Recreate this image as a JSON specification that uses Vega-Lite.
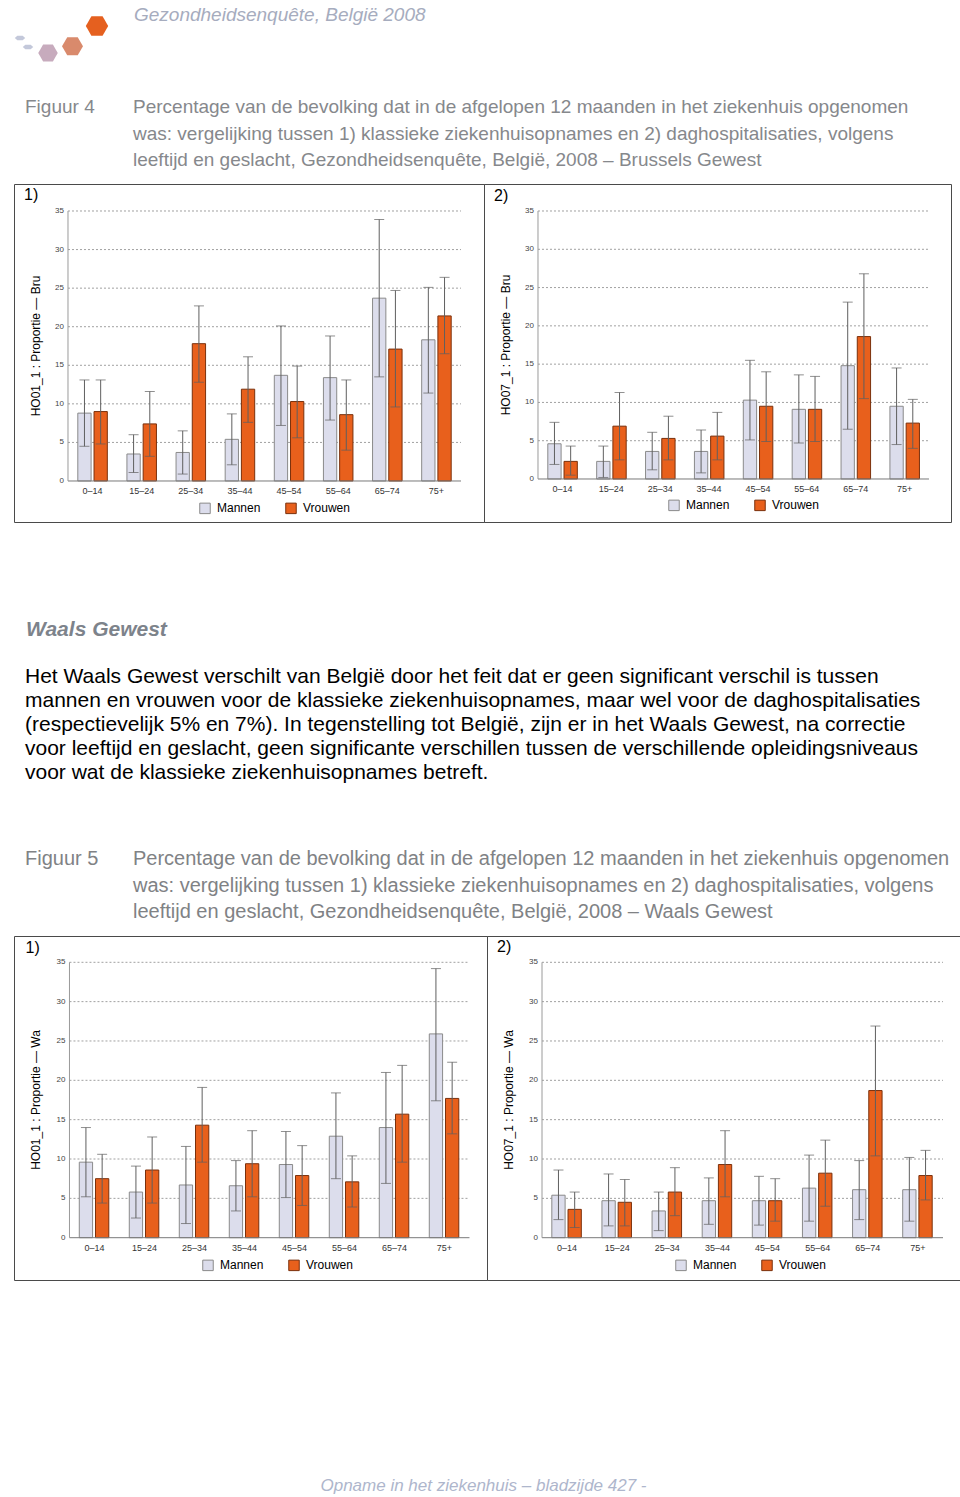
{
  "$schema": "https://vega.github.io/schema/vega-lite/v6.json",
  "background": "white",
  "padding": {"left": 13, "top": 0, "right": 0, "bottom": 0},
  "spacing": 0,
  "resolve": {"scale": {"fill": "independent", "stroke": "independent", "color": "independent", "size": "independent"}},
  "vconcat": [
    {
      "width": 947, "height": 70,
      "layer": [
        {
          "data": {"name": "logo2"},
          "mark": {"type": "point", "filled": true, "opacity": 1, "color": "#C3C8DA", "size": 110, "shape": "M-1,0L-0.5,-0.42L0.5,-0.42L1,0L0.5,0.42L-0.5,0.42Z"},
          "encoding": {
            "x": {"field": "j", "type": "quantitative", "scale": {"domain": [0, 1], "range": [6, 14]}, "axis": null},
            "y": {"field": "j", "type": "quantitative", "scale": {"domain": [0, 1], "range": [38, 47]}, "axis": null}
          }
        },
        {
          "data": {"name": "logo"},
          "mark": {"type": "point", "filled": true, "opacity": 1, "shape": "M-1,0L-0.5,-0.866L0.5,-0.866L1,0L0.5,0.866L-0.5,0.866Z"},
          "encoding": {
            "x": {"field": "i", "type": "quantitative", "scale": {"domain": [0, 2], "range": [34, 83]}, "axis": null},
            "y": {"field": "i", "type": "quantitative", "scale": {"type": "pow", "exponent": 2, "domain": [0, 2], "range": [53, 26]}, "axis": null},
            "size": {"field": "i", "type": "ordinal", "scale": {"range": [380, 500, 780]}, "legend": null},
            "color": {"field": "i", "type": "ordinal", "scale": {"range": ["#C7ABBD", "#D98A6C", "#E5601F"]}, "legend": null}
          }
        },
        {
          "data": {"values": [{"line": 1, "text": "Gezondheidsenquête, België 2008"}]},
          "mark": {"type": "text", "align": "left", "baseline": "middle", "fontStyle": "italic", "fontSize": 19, "color": "#A6ACBE"},
          "encoding": {
            "x": {"value": 120},
            "y": {"field": "line", "type": "ordinal", "axis": null, "scale": {"range": [3, 27]}},
            "text": {"field": "text"}
          }
        }
      ],
      "resolve": {"scale": {"x": "independent", "y": "independent"}}
    },
    {
      "width": 947, "height": 113,
      "layer": [
        {
          "data": {"values": [{"line": 1, "text": "Figuur 4"}]},
          "mark": {"type": "text", "align": "left", "baseline": "middle", "fontSize": 19, "color": "#86888C"},
          "encoding": {
            "x": {"value": 11},
            "y": {"field": "line", "type": "ordinal", "axis": null, "scale": {"domain": [1, 2, 3], "range": [24, 103]}},
            "text": {"field": "text"}
          }
        },
        {
          "data": {"name": "cap4"},
          "mark": {"type": "text", "align": "left", "baseline": "middle", "fontSize": 19, "color": "#86888C"},
          "encoding": {
            "x": {"value": 119},
            "y": {"field": "line", "type": "ordinal", "axis": null},
            "text": {"field": "text"}
          }
        }
      ]
    },
    {
      "hconcat": [
        {
          "width": 470, "height": 338,
          "view": {"stroke": "#4a4a4a", "strokeWidth": 1},
          "layer": [
            {"data": {"name": "grid"}, "mark": {"type": "rule", "color": "#a0a0a0", "strokeDash": [2, 2], "strokeWidth": 1},
             "encoding": {"x": {"datum": "0–14", "type": "nominal", "bandPosition": 0, "axis": null}, "x2": {"datum": "75+", "bandPosition": 1}, "y": {"field": "g", "type": "quantitative", "axis": null}}},
            {"data": {"name": "f41"}, "mark": {"type": "bar", "strokeWidth": 1},
             "encoding": {
               "x": {"field": "age", "type": "nominal", "axis": null, "scale": {"domain": ["0–14", "15–24", "25–34", "35–44", "45–54", "55–64", "65–74", "75+"], "paddingInner": 0, "paddingOuter": 0.7837, "align": 0.7013, "round": false}},
               "xOffset": {"field": "sex", "type": "nominal", "scale": {"domain": ["Mannen", "Vrouwen"], "paddingInner": 0.18, "paddingOuter": 0.605}},
               "y": {"field": "v", "type": "quantitative", "axis": null, "scale": {"domain": [-5.315, 38.5], "nice": false, "zero": false}},
               "y2": {"datum": 0},
               "fill": {"field": "sex", "type": "nominal", "scale": {"domain": ["Mannen", "Vrouwen"], "range": ["#DCDDEC", "#E8601C"]}, "legend": {"orient": "none", "legendX": 185, "legendY": 318, "direction": "horizontal", "title": null, "symbolType": "square", "symbolSize": 110, "symbolStrokeWidth": 1, "labelFontSize": 12, "labelColor": "#000000", "labelOffset": 6, "columnPadding": 22}},
               "stroke": {"field": "sex", "type": "nominal", "scale": {"domain": ["Mannen", "Vrouwen"], "range": ["#8a8a8a", "#7a300c"]}, "legend": {"orient": "none", "legendX": 185, "legendY": 318, "direction": "horizontal", "title": null, "symbolType": "square", "symbolSize": 110, "symbolStrokeWidth": 1, "labelFontSize": 12, "labelColor": "#000000", "labelOffset": 6, "columnPadding": 22}}
             }},
            {"data": {"name": "f41"}, "mark": {"type": "rule", "color": "#5f5f5f", "strokeWidth": 1},
             "encoding": {"x": {"field": "age", "type": "nominal", "axis": null}, "xOffset": {"field": "sex", "type": "nominal"}, "y": {"field": "lo", "type": "quantitative", "axis": null}, "y2": {"field": "hi"}}},
            {"data": {"name": "f41"}, "mark": {"type": "tick", "color": "#5f5f5f", "thickness": 1, "size": 10},
             "encoding": {"x": {"field": "age", "type": "nominal", "axis": null}, "xOffset": {"field": "sex", "type": "nominal"}, "y": {"field": "lo", "type": "quantitative", "axis": null}}},
            {"data": {"name": "f41"}, "mark": {"type": "tick", "color": "#5f5f5f", "thickness": 1, "size": 10},
             "encoding": {"x": {"field": "age", "type": "nominal", "axis": null}, "xOffset": {"field": "sex", "type": "nominal"}, "y": {"field": "hi", "type": "quantitative", "axis": null}}},
            {"data": {"name": "one"}, "mark": {"type": "rule", "color": "#7a7a7a", "strokeWidth": 1},
             "encoding": {"x": {"datum": "0–14", "type": "nominal", "bandPosition": 0, "axis": null}, "x2": {"datum": "75+", "bandPosition": 1}, "y": {"datum": 0, "type": "quantitative", "axis": null}}},
            {"data": {"name": "one"}, "mark": {"type": "rule", "color": "#9a9a9a", "strokeWidth": 1},
             "encoding": {"x": {"datum": "0–14", "type": "nominal", "bandPosition": 0, "axis": null}, "y": {"datum": 0, "type": "quantitative", "axis": null}, "y2": {"datum": 35}}},
            {"data": {"name": "ticks"}, "mark": {"type": "text", "align": "right", "baseline": "middle", "dx": -4, "fontSize": 8, "color": "#444444"},
             "encoding": {"x": {"datum": "0–14", "type": "nominal", "bandPosition": 0, "axis": null}, "y": {"field": "g", "type": "quantitative", "axis": null}, "text": {"field": "g"}}},
            {"data": {"name": "ages"}, "mark": {"type": "text", "align": "center", "baseline": "middle", "fontSize": 9, "color": "#333333"},
             "encoding": {"x": {"field": "age", "type": "nominal", "axis": null}, "y": {"datum": -1.3, "type": "quantitative", "axis": null}, "text": {"field": "age"}}},
            {"data": {"values": [{"t": "HO01_1 : Proportie — Bru"}]}, "mark": {"type": "text", "align": "center", "baseline": "middle", "angle": 270, "dy": -31.5, "fontSize": 12, "color": "#000000"},
             "encoding": {"x": {"datum": "0–14", "type": "nominal", "bandPosition": 0, "axis": null}, "y": {"datum": 17.5, "type": "quantitative", "axis": null}, "text": {"field": "t"}}},
            {"data": {"values": [{"t": "1)"}]}, "mark": {"type": "text", "align": "left", "baseline": "middle", "dx": -44, "dy": 11, "fontSize": 16, "color": "#000000"},
             "encoding": {"x": {"datum": "0–14", "type": "nominal", "bandPosition": 0, "axis": null}, "y": {"datum": 38.5, "type": "quantitative", "axis": null}, "text": {"field": "t"}}}
          ]
        },
        {
          "width": 467, "height": 338,
          "view": {"stroke": "#4a4a4a", "strokeWidth": 1},
          "layer": [
            {"data": {"name": "grid"}, "mark": {"type": "rule", "color": "#a0a0a0", "strokeDash": [2, 2], "strokeWidth": 1},
             "encoding": {"x": {"datum": "0–14", "type": "nominal", "bandPosition": 0, "axis": null}, "x2": {"datum": "75+", "bandPosition": 1}, "y": {"field": "g", "type": "quantitative", "axis": null}}},
            {"data": {"name": "f42"}, "mark": {"type": "bar", "strokeWidth": 1},
             "encoding": {
               "x": {"field": "age", "type": "nominal", "axis": null, "scale": {"domain": ["0–14", "15–24", "25–34", "35–44", "45–54", "55–64", "65–74", "75+"], "paddingInner": 0, "paddingOuter": 0.7775, "align": 0.7105, "round": false}},
               "xOffset": {"field": "sex", "type": "nominal", "scale": {"domain": ["Mannen", "Vrouwen"], "paddingInner": 0.18, "paddingOuter": 0.605}},
               "y": {"field": "v", "type": "quantitative", "axis": null, "scale": {"domain": [-5.616, 38.526], "nice": false, "zero": false}},
               "y2": {"datum": 0},
               "fill": {"field": "sex", "type": "nominal", "scale": {"domain": ["Mannen", "Vrouwen"], "range": ["#DCDDEC", "#E8601C"]}, "legend": {"orient": "none", "legendX": 184, "legendY": 315, "direction": "horizontal", "title": null, "symbolType": "square", "symbolSize": 110, "symbolStrokeWidth": 1, "labelFontSize": 12, "labelColor": "#000000", "labelOffset": 6, "columnPadding": 22}},
               "stroke": {"field": "sex", "type": "nominal", "scale": {"domain": ["Mannen", "Vrouwen"], "range": ["#8a8a8a", "#7a300c"]}, "legend": {"orient": "none", "legendX": 184, "legendY": 315, "direction": "horizontal", "title": null, "symbolType": "square", "symbolSize": 110, "symbolStrokeWidth": 1, "labelFontSize": 12, "labelColor": "#000000", "labelOffset": 6, "columnPadding": 22}}
             }},
            {"data": {"name": "f42"}, "mark": {"type": "rule", "color": "#5f5f5f", "strokeWidth": 1},
             "encoding": {"x": {"field": "age", "type": "nominal", "axis": null}, "xOffset": {"field": "sex", "type": "nominal"}, "y": {"field": "lo", "type": "quantitative", "axis": null}, "y2": {"field": "hi"}}},
            {"data": {"name": "f42"}, "mark": {"type": "tick", "color": "#5f5f5f", "thickness": 1, "size": 10},
             "encoding": {"x": {"field": "age", "type": "nominal", "axis": null}, "xOffset": {"field": "sex", "type": "nominal"}, "y": {"field": "lo", "type": "quantitative", "axis": null}}},
            {"data": {"name": "f42"}, "mark": {"type": "tick", "color": "#5f5f5f", "thickness": 1, "size": 10},
             "encoding": {"x": {"field": "age", "type": "nominal", "axis": null}, "xOffset": {"field": "sex", "type": "nominal"}, "y": {"field": "hi", "type": "quantitative", "axis": null}}},
            {"data": {"name": "one"}, "mark": {"type": "rule", "color": "#7a7a7a", "strokeWidth": 1},
             "encoding": {"x": {"datum": "0–14", "type": "nominal", "bandPosition": 0, "axis": null}, "x2": {"datum": "75+", "bandPosition": 1}, "y": {"datum": 0, "type": "quantitative", "axis": null}}},
            {"data": {"name": "one"}, "mark": {"type": "rule", "color": "#9a9a9a", "strokeWidth": 1},
             "encoding": {"x": {"datum": "0–14", "type": "nominal", "bandPosition": 0, "axis": null}, "y": {"datum": 0, "type": "quantitative", "axis": null}, "y2": {"datum": 35}}},
            {"data": {"name": "ticks"}, "mark": {"type": "text", "align": "right", "baseline": "middle", "dx": -4, "fontSize": 8, "color": "#444444"},
             "encoding": {"x": {"datum": "0–14", "type": "nominal", "bandPosition": 0, "axis": null}, "y": {"field": "g", "type": "quantitative", "axis": null}, "text": {"field": "g"}}},
            {"data": {"name": "ages"}, "mark": {"type": "text", "align": "center", "baseline": "middle", "fontSize": 9, "color": "#333333"},
             "encoding": {"x": {"field": "age", "type": "nominal", "axis": null}, "y": {"datum": -1.3, "type": "quantitative", "axis": null}, "text": {"field": "age"}}},
            {"data": {"values": [{"t": "HO07_1 : Proportie — Bru"}]}, "mark": {"type": "text", "align": "center", "baseline": "middle", "angle": 270, "dy": -32.3, "fontSize": 12, "color": "#000000"},
             "encoding": {"x": {"datum": "0–14", "type": "nominal", "bandPosition": 0, "axis": null}, "y": {"datum": 17.5, "type": "quantitative", "axis": null}, "text": {"field": "t"}}},
            {"data": {"values": [{"t": "2)"}]}, "mark": {"type": "text", "align": "left", "baseline": "middle", "dx": -44, "dy": 12, "fontSize": 16, "color": "#000000"},
             "encoding": {"x": {"datum": "0–14", "type": "nominal", "bandPosition": 0, "axis": null}, "y": {"datum": 38.526, "type": "quantitative", "axis": null}, "text": {"field": "t"}}}
          ]
        }
      ],
      "spacing": 0,
      "bounds": "flush",
      "resolve": {"scale": {"fill": "independent", "stroke": "independent"}}
    },
    {
      "width": 947, "height": 317,
      "layer": [
        {
          "data": {"values": [{"line": 0, "text": "Waals Gewest"}]},
          "mark": {"type": "text", "align": "left", "baseline": "middle", "fontSize": 21, "fontWeight": "bold", "fontStyle": "italic", "color": "#7D838B"},
          "encoding": {
            "x": {"value": 12},
            "y": {"field": "line", "type": "ordinal", "axis": null, "scale": {"range": [95, 119]}},
            "text": {"field": "text"}
          }
        },
        {
          "data": {"name": "para"},
          "mark": {"type": "text", "align": "left", "baseline": "middle", "fontSize": 21, "color": "#000000"},
          "encoding": {
            "x": {"value": 11},
            "y": {"field": "line", "type": "ordinal", "axis": null, "scale": {"range": [142, 262]}},
            "text": {"field": "text"}
          }
        }
      ],
      "resolve": {"scale": {"y": "independent"}}
    },
    {
      "width": 947, "height": 95,
      "layer": [
        {
          "data": {"values": [{"line": 1, "text": "Figuur 5"}]},
          "mark": {"type": "text", "align": "left", "baseline": "middle", "fontSize": 20, "color": "#808285"},
          "encoding": {
            "x": {"value": 11},
            "y": {"field": "line", "type": "ordinal", "axis": null, "scale": {"domain": [1, 2, 3], "range": [6, 85.5]}},
            "text": {"field": "text"}
          }
        },
        {
          "data": {"name": "cap5"},
          "mark": {"type": "text", "align": "left", "baseline": "middle", "fontSize": 20, "color": "#808285"},
          "encoding": {
            "x": {"value": 119},
            "y": {"field": "line", "type": "ordinal", "axis": null},
            "text": {"field": "text"}
          }
        }
      ]
    },
    {
      "hconcat": [
        {
          "width": 473, "height": 344,
          "view": {"stroke": "#4a4a4a", "strokeWidth": 1},
          "layer": [
            {"data": {"name": "grid"}, "mark": {"type": "rule", "color": "#a0a0a0", "strokeDash": [2, 2], "strokeWidth": 1},
             "encoding": {"x": {"datum": "0–14", "type": "nominal", "bandPosition": 0, "axis": null}, "x2": {"datum": "75+", "bandPosition": 1}, "y": {"field": "g", "type": "quantitative", "axis": null}}},
            {"data": {"name": "f51"}, "mark": {"type": "bar", "strokeWidth": 1},
             "encoding": {
               "x": {"field": "age", "type": "nominal", "axis": null, "scale": {"domain": ["0–14", "15–24", "25–34", "35–44", "45–54", "55–64", "65–74", "75+"], "paddingInner": 0, "paddingOuter": 0.73, "align": 0.76, "round": false}},
               "xOffset": {"field": "sex", "type": "nominal", "scale": {"domain": ["Mannen", "Vrouwen"], "paddingInner": 0.18, "paddingOuter": 0.605}},
               "y": {"field": "v", "type": "quantitative", "axis": null, "scale": {"domain": [-5.376, 38.342], "nice": false, "zero": false}},
               "y2": {"datum": 0},
               "fill": {"field": "sex", "type": "nominal", "scale": {"domain": ["Mannen", "Vrouwen"], "range": ["#DCDDEC", "#E8601C"]}, "legend": {"orient": "none", "legendX": 188, "legendY": 323, "direction": "horizontal", "title": null, "symbolType": "square", "symbolSize": 110, "symbolStrokeWidth": 1, "labelFontSize": 12, "labelColor": "#000000", "labelOffset": 6, "columnPadding": 22}},
               "stroke": {"field": "sex", "type": "nominal", "scale": {"domain": ["Mannen", "Vrouwen"], "range": ["#8a8a8a", "#7a300c"]}, "legend": {"orient": "none", "legendX": 188, "legendY": 323, "direction": "horizontal", "title": null, "symbolType": "square", "symbolSize": 110, "symbolStrokeWidth": 1, "labelFontSize": 12, "labelColor": "#000000", "labelOffset": 6, "columnPadding": 22}}
             }},
            {"data": {"name": "f51"}, "mark": {"type": "rule", "color": "#5f5f5f", "strokeWidth": 1},
             "encoding": {"x": {"field": "age", "type": "nominal", "axis": null}, "xOffset": {"field": "sex", "type": "nominal"}, "y": {"field": "lo", "type": "quantitative", "axis": null}, "y2": {"field": "hi"}}},
            {"data": {"name": "f51"}, "mark": {"type": "tick", "color": "#5f5f5f", "thickness": 1, "size": 10},
             "encoding": {"x": {"field": "age", "type": "nominal", "axis": null}, "xOffset": {"field": "sex", "type": "nominal"}, "y": {"field": "lo", "type": "quantitative", "axis": null}}},
            {"data": {"name": "f51"}, "mark": {"type": "tick", "color": "#5f5f5f", "thickness": 1, "size": 10},
             "encoding": {"x": {"field": "age", "type": "nominal", "axis": null}, "xOffset": {"field": "sex", "type": "nominal"}, "y": {"field": "hi", "type": "quantitative", "axis": null}}},
            {"data": {"name": "one"}, "mark": {"type": "rule", "color": "#7a7a7a", "strokeWidth": 1},
             "encoding": {"x": {"datum": "0–14", "type": "nominal", "bandPosition": 0, "axis": null}, "x2": {"datum": "75+", "bandPosition": 1}, "y": {"datum": 0, "type": "quantitative", "axis": null}}},
            {"data": {"name": "one"}, "mark": {"type": "rule", "color": "#9a9a9a", "strokeWidth": 1},
             "encoding": {"x": {"datum": "0–14", "type": "nominal", "bandPosition": 0, "axis": null}, "y": {"datum": 0, "type": "quantitative", "axis": null}, "y2": {"datum": 35}}},
            {"data": {"name": "ticks"}, "mark": {"type": "text", "align": "right", "baseline": "middle", "dx": -4, "fontSize": 8, "color": "#444444"},
             "encoding": {"x": {"datum": "0–14", "type": "nominal", "bandPosition": 0, "axis": null}, "y": {"field": "g", "type": "quantitative", "axis": null}, "text": {"field": "g"}}},
            {"data": {"name": "ages"}, "mark": {"type": "text", "align": "center", "baseline": "middle", "fontSize": 9, "color": "#333333"},
             "encoding": {"x": {"field": "age", "type": "nominal", "axis": null}, "y": {"datum": -1.3, "type": "quantitative", "axis": null}, "text": {"field": "age"}}},
            {"data": {"values": [{"t": "HO01_1 : Proportie — Wa"}]}, "mark": {"type": "text", "align": "center", "baseline": "middle", "angle": 270, "dy": -33, "fontSize": 12, "color": "#000000"},
             "encoding": {"x": {"datum": "0–14", "type": "nominal", "bandPosition": 0, "axis": null}, "y": {"datum": 17.5, "type": "quantitative", "axis": null}, "text": {"field": "t"}}},
            {"data": {"values": [{"t": "1)"}]}, "mark": {"type": "text", "align": "left", "baseline": "middle", "dx": -44, "dy": 11.5, "fontSize": 16, "color": "#000000"},
             "encoding": {"x": {"datum": "0–14", "type": "nominal", "bandPosition": 0, "axis": null}, "y": {"datum": 38.342, "type": "quantitative", "axis": null}, "text": {"field": "t"}}}
          ]
        },
        {
          "width": 473, "height": 344,
          "view": {"stroke": "#4a4a4a", "strokeWidth": 1},
          "layer": [
            {"data": {"name": "grid"}, "mark": {"type": "rule", "color": "#a0a0a0", "strokeDash": [2, 2], "strokeWidth": 1},
             "encoding": {"x": {"datum": "0–14", "type": "nominal", "bandPosition": 0, "axis": null}, "x2": {"datum": "75+", "bandPosition": 1}, "y": {"field": "g", "type": "quantitative", "axis": null}}},
            {"data": {"name": "f52"}, "mark": {"type": "bar", "strokeWidth": 1},
             "encoding": {
               "x": {"field": "age", "type": "nominal", "axis": null, "scale": {"domain": ["0–14", "15–24", "25–34", "35–44", "45–54", "55–64", "65–74", "75+"], "paddingInner": 0, "paddingOuter": 0.7182, "align": 0.764, "round": false}},
               "xOffset": {"field": "sex", "type": "nominal", "scale": {"domain": ["Mannen", "Vrouwen"], "paddingInner": 0.18, "paddingOuter": 0.605}},
               "y": {"field": "v", "type": "quantitative", "axis": null, "scale": {"domain": [-5.376, 38.342], "nice": false, "zero": false}},
               "y2": {"datum": 0},
               "fill": {"field": "sex", "type": "nominal", "scale": {"domain": ["Mannen", "Vrouwen"], "range": ["#DCDDEC", "#E8601C"]}, "legend": {"orient": "none", "legendX": 188, "legendY": 323, "direction": "horizontal", "title": null, "symbolType": "square", "symbolSize": 110, "symbolStrokeWidth": 1, "labelFontSize": 12, "labelColor": "#000000", "labelOffset": 6, "columnPadding": 22}},
               "stroke": {"field": "sex", "type": "nominal", "scale": {"domain": ["Mannen", "Vrouwen"], "range": ["#8a8a8a", "#7a300c"]}, "legend": {"orient": "none", "legendX": 188, "legendY": 323, "direction": "horizontal", "title": null, "symbolType": "square", "symbolSize": 110, "symbolStrokeWidth": 1, "labelFontSize": 12, "labelColor": "#000000", "labelOffset": 6, "columnPadding": 22}}
             }},
            {"data": {"name": "f52"}, "mark": {"type": "rule", "color": "#5f5f5f", "strokeWidth": 1},
             "encoding": {"x": {"field": "age", "type": "nominal", "axis": null}, "xOffset": {"field": "sex", "type": "nominal"}, "y": {"field": "lo", "type": "quantitative", "axis": null}, "y2": {"field": "hi"}}},
            {"data": {"name": "f52"}, "mark": {"type": "tick", "color": "#5f5f5f", "thickness": 1, "size": 10},
             "encoding": {"x": {"field": "age", "type": "nominal", "axis": null}, "xOffset": {"field": "sex", "type": "nominal"}, "y": {"field": "lo", "type": "quantitative", "axis": null}}},
            {"data": {"name": "f52"}, "mark": {"type": "tick", "color": "#5f5f5f", "thickness": 1, "size": 10},
             "encoding": {"x": {"field": "age", "type": "nominal", "axis": null}, "xOffset": {"field": "sex", "type": "nominal"}, "y": {"field": "hi", "type": "quantitative", "axis": null}}},
            {"data": {"name": "one"}, "mark": {"type": "rule", "color": "#7a7a7a", "strokeWidth": 1},
             "encoding": {"x": {"datum": "0–14", "type": "nominal", "bandPosition": 0, "axis": null}, "x2": {"datum": "75+", "bandPosition": 1}, "y": {"datum": 0, "type": "quantitative", "axis": null}}},
            {"data": {"name": "one"}, "mark": {"type": "rule", "color": "#9a9a9a", "strokeWidth": 1},
             "encoding": {"x": {"datum": "0–14", "type": "nominal", "bandPosition": 0, "axis": null}, "y": {"datum": 0, "type": "quantitative", "axis": null}, "y2": {"datum": 35}}},
            {"data": {"name": "ticks"}, "mark": {"type": "text", "align": "right", "baseline": "middle", "dx": -4, "fontSize": 8, "color": "#444444"},
             "encoding": {"x": {"datum": "0–14", "type": "nominal", "bandPosition": 0, "axis": null}, "y": {"field": "g", "type": "quantitative", "axis": null}, "text": {"field": "g"}}},
            {"data": {"name": "ages"}, "mark": {"type": "text", "align": "center", "baseline": "middle", "fontSize": 9, "color": "#333333"},
             "encoding": {"x": {"field": "age", "type": "nominal", "axis": null}, "y": {"datum": -1.3, "type": "quantitative", "axis": null}, "text": {"field": "age"}}},
            {"data": {"values": [{"t": "HO07_1 : Proportie — Wa"}]}, "mark": {"type": "text", "align": "center", "baseline": "middle", "angle": 270, "dy": -32.7, "fontSize": 12, "color": "#000000"},
             "encoding": {"x": {"datum": "0–14", "type": "nominal", "bandPosition": 0, "axis": null}, "y": {"datum": 17.5, "type": "quantitative", "axis": null}, "text": {"field": "t"}}},
            {"data": {"values": [{"t": "2)"}]}, "mark": {"type": "text", "align": "left", "baseline": "middle", "dx": -45, "dy": 11, "fontSize": 16, "color": "#000000"},
             "encoding": {"x": {"datum": "0–14", "type": "nominal", "bandPosition": 0, "axis": null}, "y": {"datum": 38.342, "type": "quantitative", "axis": null}, "text": {"field": "t"}}}
          ]
        }
      ],
      "spacing": 0,
      "bounds": "flush",
      "resolve": {"scale": {"fill": "independent", "stroke": "independent"}}
    },
    {
      "width": 939, "height": 216,
      "data": {"values": [{"line": 1, "text": "Opname in het ziekenhuis – bladzijde 427 -"}]},
      "mark": {"type": "text", "align": "center", "baseline": "middle", "fontSize": 17, "fontStyle": "italic", "color": "#AEB6CC"},
      "encoding": {
        "y": {"field": "line", "type": "ordinal", "axis": null, "scale": {"range": [193, 217]}},
        "text": {"field": "text"}
      }
    }
  ],
  "datasets": {
    "logo": [{"i": 0}, {"i": 1}, {"i": 2}],
    "logo2": [{"j": 0}, {"j": 1}],
    "one": [{"k": 1}],
    "grid": [{"g": 5}, {"g": 10}, {"g": 15}, {"g": 20}, {"g": 25}, {"g": 30}, {"g": 35}],
    "ticks": [{"g": 0}, {"g": 5}, {"g": 10}, {"g": 15}, {"g": 20}, {"g": 25}, {"g": 30}, {"g": 35}],
    "ages": [{"age": "0–14"}, {"age": "15–24"}, {"age": "25–34"}, {"age": "35–44"}, {"age": "45–54"}, {"age": "55–64"}, {"age": "65–74"}, {"age": "75+"}],
    "cap4": [
      {"line": 1, "text": "Percentage van de bevolking dat in de afgelopen 12 maanden in het ziekenhuis opgenomen"},
      {"line": 2, "text": "was: vergelijking tussen 1) klassieke ziekenhuisopnames en 2) daghospitalisaties, volgens"},
      {"line": 3, "text": "leeftijd en geslacht, Gezondheidsenquête, België, 2008 – Brussels Gewest"}
    ],
    "cap5": [
      {"line": 1, "text": "Percentage van de bevolking dat in de afgelopen 12 maanden in het ziekenhuis opgenomen"},
      {"line": 2, "text": "was: vergelijking tussen 1) klassieke ziekenhuisopnames en 2) daghospitalisaties, volgens"},
      {"line": 3, "text": "leeftijd en geslacht, Gezondheidsenquête, België, 2008 – Waals Gewest"}
    ],
    "para": [
      {"line": 1, "text": "Het Waals Gewest verschilt van België door het feit dat er geen significant verschil is tussen"},
      {"line": 2, "text": "mannen en vrouwen voor de klassieke ziekenhuisopnames, maar wel voor de daghospitalisaties"},
      {"line": 3, "text": "(respectievelijk 5% en 7%). In tegenstelling tot België, zijn er in het Waals Gewest, na correctie"},
      {"line": 4, "text": "voor leeftijd en geslacht, geen significante verschillen tussen de verschillende opleidingsniveaus"},
      {"line": 5, "text": "voor wat de klassieke ziekenhuisopnames betreft."}
    ],
    "f41": [
      {"age": "0–14", "sex": "Mannen", "v": 8.8, "lo": 4.5, "hi": 13.1},
      {"age": "0–14", "sex": "Vrouwen", "v": 9.0, "lo": 4.8, "hi": 13.1},
      {"age": "15–24", "sex": "Mannen", "v": 3.5, "lo": 1.1, "hi": 6.0},
      {"age": "15–24", "sex": "Vrouwen", "v": 7.4, "lo": 3.2, "hi": 11.6},
      {"age": "25–34", "sex": "Mannen", "v": 3.7, "lo": 0.9, "hi": 6.5},
      {"age": "25–34", "sex": "Vrouwen", "v": 17.8, "lo": 12.8, "hi": 22.7},
      {"age": "35–44", "sex": "Mannen", "v": 5.4, "lo": 2.1, "hi": 8.7},
      {"age": "35–44", "sex": "Vrouwen", "v": 11.9, "lo": 7.6, "hi": 16.1},
      {"age": "45–54", "sex": "Mannen", "v": 13.7, "lo": 7.2, "hi": 20.1},
      {"age": "45–54", "sex": "Vrouwen", "v": 10.3, "lo": 5.6, "hi": 14.9},
      {"age": "55–64", "sex": "Mannen", "v": 13.4, "lo": 7.9, "hi": 18.8},
      {"age": "55–64", "sex": "Vrouwen", "v": 8.6, "lo": 4.0, "hi": 13.1},
      {"age": "65–74", "sex": "Mannen", "v": 23.7, "lo": 13.5, "hi": 33.9},
      {"age": "65–74", "sex": "Vrouwen", "v": 17.1, "lo": 9.6, "hi": 24.7},
      {"age": "75+", "sex": "Mannen", "v": 18.3, "lo": 11.4, "hi": 25.1},
      {"age": "75+", "sex": "Vrouwen", "v": 21.4, "lo": 16.5, "hi": 26.4}
    ],
    "f42": [
      {"age": "0–14", "sex": "Mannen", "v": 4.6, "lo": 1.9, "hi": 7.4},
      {"age": "0–14", "sex": "Vrouwen", "v": 2.3, "lo": 0.5, "hi": 4.3},
      {"age": "15–24", "sex": "Mannen", "v": 2.3, "lo": 0.2, "hi": 4.3},
      {"age": "15–24", "sex": "Vrouwen", "v": 6.9, "lo": 2.5, "hi": 11.3},
      {"age": "25–34", "sex": "Mannen", "v": 3.6, "lo": 1.2, "hi": 6.1},
      {"age": "25–34", "sex": "Vrouwen", "v": 5.3, "lo": 2.5, "hi": 8.2},
      {"age": "35–44", "sex": "Mannen", "v": 3.6, "lo": 0.8, "hi": 6.4},
      {"age": "35–44", "sex": "Vrouwen", "v": 5.6, "lo": 2.5, "hi": 8.7},
      {"age": "45–54", "sex": "Mannen", "v": 10.3, "lo": 5.1, "hi": 15.5},
      {"age": "45–54", "sex": "Vrouwen", "v": 9.5, "lo": 4.9, "hi": 14.0},
      {"age": "55–64", "sex": "Mannen", "v": 9.1, "lo": 4.7, "hi": 13.6},
      {"age": "55–64", "sex": "Vrouwen", "v": 9.1, "lo": 4.9, "hi": 13.4},
      {"age": "65–74", "sex": "Mannen", "v": 14.8, "lo": 6.5, "hi": 23.1},
      {"age": "65–74", "sex": "Vrouwen", "v": 18.6, "lo": 10.5, "hi": 26.8},
      {"age": "75+", "sex": "Mannen", "v": 9.5, "lo": 4.5, "hi": 14.5},
      {"age": "75+", "sex": "Vrouwen", "v": 7.3, "lo": 4.0, "hi": 10.4}
    ],
    "f51": [
      {"age": "0–14", "sex": "Mannen", "v": 9.6, "lo": 5.2, "hi": 14.0},
      {"age": "0–14", "sex": "Vrouwen", "v": 7.5, "lo": 4.4, "hi": 10.6},
      {"age": "15–24", "sex": "Mannen", "v": 5.8, "lo": 2.5, "hi": 9.1},
      {"age": "15–24", "sex": "Vrouwen", "v": 8.6, "lo": 4.4, "hi": 12.8},
      {"age": "25–34", "sex": "Mannen", "v": 6.7, "lo": 1.8, "hi": 11.6},
      {"age": "25–34", "sex": "Vrouwen", "v": 14.3, "lo": 9.6, "hi": 19.1},
      {"age": "35–44", "sex": "Mannen", "v": 6.6, "lo": 3.4, "hi": 9.8},
      {"age": "35–44", "sex": "Vrouwen", "v": 9.4, "lo": 5.2, "hi": 13.6},
      {"age": "45–54", "sex": "Mannen", "v": 9.3, "lo": 5.1, "hi": 13.5},
      {"age": "45–54", "sex": "Vrouwen", "v": 7.9, "lo": 4.1, "hi": 11.7},
      {"age": "55–64", "sex": "Mannen", "v": 12.9, "lo": 7.5, "hi": 18.4},
      {"age": "55–64", "sex": "Vrouwen", "v": 7.1, "lo": 3.9, "hi": 10.4},
      {"age": "65–74", "sex": "Mannen", "v": 14.0, "lo": 6.9, "hi": 21.0},
      {"age": "65–74", "sex": "Vrouwen", "v": 15.7, "lo": 9.6, "hi": 21.9},
      {"age": "75+", "sex": "Mannen", "v": 25.9, "lo": 17.4, "hi": 34.2},
      {"age": "75+", "sex": "Vrouwen", "v": 17.7, "lo": 13.2, "hi": 22.3}
    ],
    "f52": [
      {"age": "0–14", "sex": "Mannen", "v": 5.4, "lo": 2.3, "hi": 8.6},
      {"age": "0–14", "sex": "Vrouwen", "v": 3.6, "lo": 1.3, "hi": 5.8},
      {"age": "15–24", "sex": "Mannen", "v": 4.7, "lo": 1.5, "hi": 8.1},
      {"age": "15–24", "sex": "Vrouwen", "v": 4.5, "lo": 1.5, "hi": 7.4},
      {"age": "25–34", "sex": "Mannen", "v": 3.4, "lo": 0.9, "hi": 5.8},
      {"age": "25–34", "sex": "Vrouwen", "v": 5.8, "lo": 2.8, "hi": 8.9},
      {"age": "35–44", "sex": "Mannen", "v": 4.7, "lo": 1.7, "hi": 7.6},
      {"age": "35–44", "sex": "Vrouwen", "v": 9.3, "lo": 5.2, "hi": 13.6},
      {"age": "45–54", "sex": "Mannen", "v": 4.7, "lo": 1.6, "hi": 7.8},
      {"age": "45–54", "sex": "Vrouwen", "v": 4.7, "lo": 2.1, "hi": 7.5},
      {"age": "55–64", "sex": "Mannen", "v": 6.3, "lo": 2.1, "hi": 10.5},
      {"age": "55–64", "sex": "Vrouwen", "v": 8.2, "lo": 4.0, "hi": 12.4},
      {"age": "65–74", "sex": "Mannen", "v": 6.1, "lo": 2.3, "hi": 9.8},
      {"age": "65–74", "sex": "Vrouwen", "v": 18.7, "lo": 10.4, "hi": 26.9},
      {"age": "75+", "sex": "Mannen", "v": 6.1, "lo": 2.1, "hi": 10.2},
      {"age": "75+", "sex": "Vrouwen", "v": 7.9, "lo": 4.8, "hi": 11.1}
    ]
  },
  "config": {
    "view": {"stroke": null},
    "font": "Liberation Sans",
    "axis": {"grid": false, "labelFont": "Liberation Sans", "titleFont": "Liberation Sans"},
    "legend": {"labelFont": "Liberation Sans"},
    "text": {"font": "Liberation Sans"}
  }
}
